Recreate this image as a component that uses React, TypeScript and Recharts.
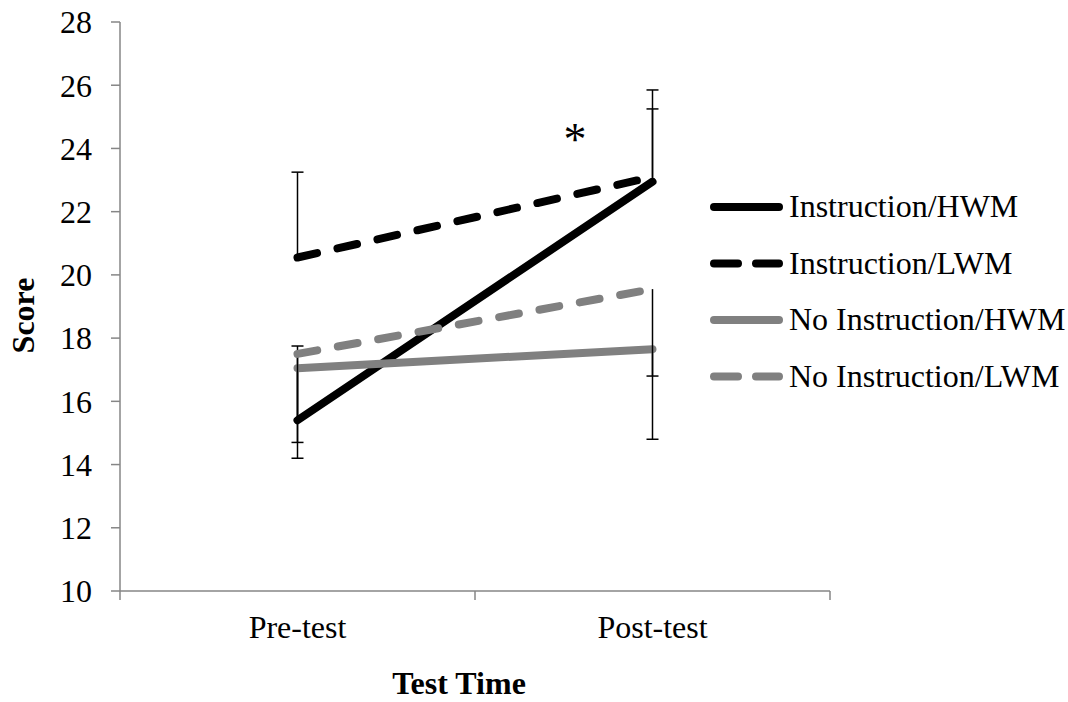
import React from 'react';
import { LineChart, Line, XAxis, YAxis, ErrorBar } from 'recharts';

const categories = ['Pre-test', 'Post-test'];
const yTicks = [10, 12, 14, 16, 18, 20, 22, 24, 26, 28];

const instrHWM = [15.4, 22.95];
const instrLWM = [20.55, 23.1];
const noInstrHWM = [17.05, 17.65];
const noInstrLWM = [17.5, 19.55];

// error bars are one-sided: Instruction groups show the upper half, No Instruction the lower half
const instrHWMErr = [2.35, 2.3];
const instrLWMErr = [2.7, 2.75];
const noInstrHWMErr = [2.35, 2.85];
const noInstrLWMErr = [3.3, 2.75];

const BLACK = '#000000';
const GRAY = '#808080';
const AXIS = '#868686';
const FONT = '"Liberation Serif", "Times New Roman", serif';
const FS = 32;

const series = [
  { key: 'iH', name: 'Instruction/HWM', values: instrHWM, err: instrHWMErr, up: true, color: BLACK, dashed: false },
  { key: 'iL', name: 'Instruction/LWM', values: instrLWM, err: instrLWMErr, up: true, color: BLACK, dashed: true },
  { key: 'nH', name: 'No Instruction/HWM', values: noInstrHWM, err: noInstrHWMErr, up: false, color: GRAY, dashed: false },
  { key: 'nL', name: 'No Instruction/LWM', values: noInstrLWM, err: noInstrLWMErr, up: false, color: GRAY, dashed: true },
];

const rows = categories.map((c, i) => {
  const row: any = { x: i + 0.5, name: c };
  series.forEach((s) => {
    row[s.key] = s.values[i];
    row[s.key + 'Err'] = s.up ? [0, s.err[i]] : [s.err[i], 0];
    row[s.key + 'Cap'] = s.up ? s.values[i] + s.err[i] : s.values[i] - s.err[i];
  });
  return row;
});

const XTick = (props: any) => {
  const { x, y, payload } = props;
  const v = payload.value;
  if (Number.isInteger(v)) {
    return <line x1={x} x2={x} y1={y - 9} y2={y} stroke={AXIS} strokeWidth={1.5} />;
  }
  return (
    <text x={x} y={y + 38} textAnchor="middle" fontSize={FS} fill="#000" fontFamily={FONT}>
      {categories[Math.floor(v)]}
    </text>
  );
};

const CapDot = (props: any) => {
  const { cx, cy, index, dataKey } = props;
  if (cx == null || cy == null) return null;
  return <line key={`${dataKey}-${index}`} x1={cx - 6} x2={cx + 6} y1={cy} y2={cy} stroke="#000" strokeWidth={1.5} />;
};

export default function App() {
  return (
    <div style={{ position: 'absolute', left: 0, top: 0, width: 1068, height: 702, fontFamily: FONT, background: '#fff' }}>
      <LineChart width={1068} height={702} data={rows} margin={{ top: 22, right: 238, bottom: 0, left: 0 }}>
        <XAxis
          dataKey="x"
          type="number"
          domain={[0, 2]}
          ticks={[0, 0.5, 1, 1.5, 2]}
          interval={0}
          height={111}
          tickSize={9}
          tickMargin={0}
          tickLine={false}
          axisLine={{ stroke: AXIS, strokeWidth: 1.5 }}
          tick={<XTick />}
        />
        <YAxis
          domain={[10, 28]}
          ticks={yTicks}
          interval={0}
          width={120}
          tickSize={9}
          tickMargin={19}
          axisLine={{ stroke: AXIS, strokeWidth: 1.5 }}
          tickLine={{ stroke: AXIS, strokeWidth: 1.5 }}
          tick={{ fill: '#000', fontSize: FS, fontFamily: FONT }}
          label={{ value: 'Score', angle: -90, position: 'center', dx: -37, dy: 9, fontSize: FS, fontWeight: 'bold', fill: '#000', fontFamily: FONT }}
        />
        {series.map((s) => (
          <Line
            key={s.key}
            dataKey={s.key}
            name={s.name}
            stroke={s.color}
            strokeWidth={8}
            strokeLinecap="round"
            strokeDasharray={s.dashed ? '20 21' : undefined}
            dot={false}
            activeDot={false}
            isAnimationActive={false}
          >
            <ErrorBar dataKey={s.key + 'Err'} direction="y" width={0} stroke="#000" strokeWidth={1.5} />
          </Line>
        ))}
        {series.map((s) => (
          <Line
            key={s.key + 'Cap'}
            dataKey={s.key + 'Cap'}
            stroke="none"
            legendType="none"
            dot={<CapDot />}
            activeDot={false}
            isAnimationActive={false}
          />
        ))}
      </LineChart>
      <svg width={1068} height={702} style={{ position: 'absolute', left: 0, top: 0, pointerEvents: 'none' }}>
        <text x={575} y={155} textAnchor="middle" fontSize={46} fill="#000" fontFamily={FONT}>*</text>
        <text x={459} y={694} textAnchor="middle" fontSize={FS} fontWeight="bold" fill="#000" fontFamily={FONT}>
          Test Time
        </text>
        {series.map((s, i) => {
          const base = 217 + i * 56.5;
          return (
            <g key={s.key}>
              <line
                x1={714}
                x2={779}
                y1={base - 10}
                y2={base - 10}
                stroke={s.color}
                strokeWidth={8}
                strokeLinecap="round"
                strokeDasharray={s.dashed ? '24 18' : undefined}
              />
              <text x={789} y={base} fontSize={FS} fill="#000" fontFamily={FONT}>{s.name}</text>
            </g>
          );
        })}
      </svg>
    </div>
  );
}
